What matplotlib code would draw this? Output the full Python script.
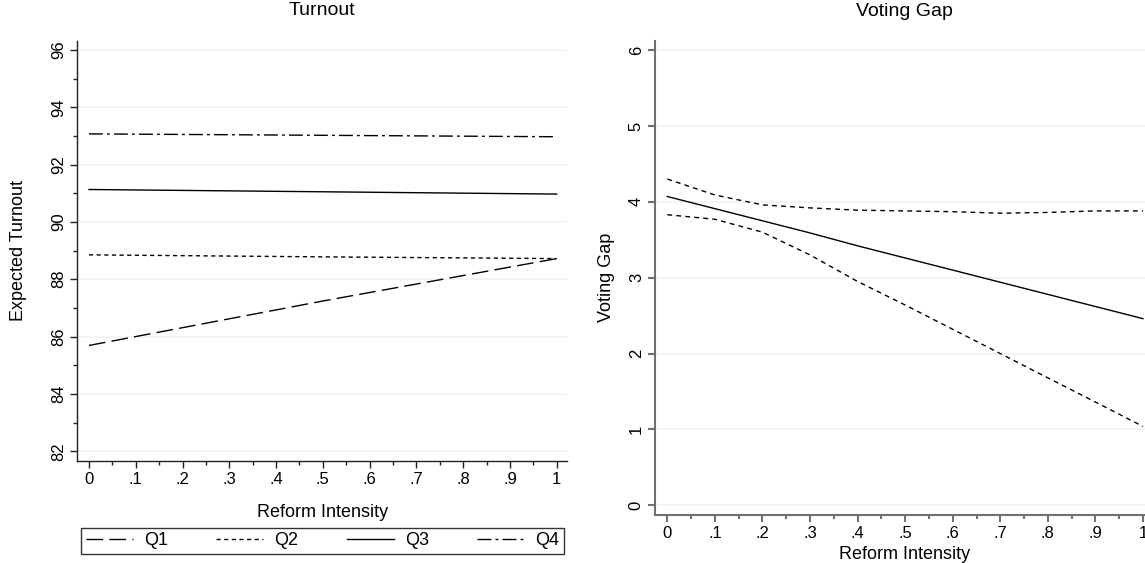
import numpy as np
import matplotlib
matplotlib.use("Agg")
import matplotlib.pyplot as plt
from matplotlib.ticker import MultipleLocator, FixedLocator

plt.rcParams['font.family'] = ['Liberation Sans', 'DejaVu Sans']
plt.rcParams['font.size'] = 12

# predicted turnout by quartile against reform intensity
reform = [0.0, 0.5, 1.0]
turnout_q1 = [85.69, 87.24, 88.72]
turnout_q2 = [88.85, 88.78, 88.72]
turnout_q3 = [91.13, 91.05, 90.97]
turnout_q4 = [93.07, 93.02, 92.97]

# voting gap estimate with confidence band
gap_x = [0.0, 0.1, 0.2, 0.3, 0.4, 0.5, 0.6, 0.7, 0.8, 0.9, 1.0]
gap_fit = [4.07, 3.91, 3.75, 3.59, 3.42, 3.26, 3.10, 2.94, 2.78, 2.62, 2.46]
gap_upper = [4.30, 4.09, 3.96, 3.92, 3.89, 3.88, 3.87, 3.85, 3.86, 3.88, 3.88]
gap_lower = [3.83, 3.77, 3.60, 3.30, 2.95, 2.64, 2.32, 2.00, 1.68, 1.36, 1.04]

x_ticks = [0, .1, .2, .3, .4, .5, .6, .7, .8, .9, 1]
x_labels = ['0', '.1', '.2', '.3', '.4', '.5', '.6', '.7', '.8', '.9', '1']

grid_col = '#eef4f5'


def style_axes(ax, spine_col, spine_w):
    for s in ['top', 'right']:
        ax.spines[s].set_visible(False)
    for s in ['left', 'bottom']:
        ax.spines[s].set_color(spine_col)
        ax.spines[s].set_linewidth(spine_w)
    ax.set_xticks(x_ticks)
    ax.set_xticklabels(x_labels)
    ax.xaxis.set_minor_locator(FixedLocator(np.arange(0.05, 1.0, 0.1)))
    ax.tick_params(axis='both', which='major', length=5, width=spine_w,
                   color=spine_col, pad=3, labelsize=12)
    ax.tick_params(axis='both', which='minor', length=3, width=spine_w,
                   color=spine_col)
    ax.tick_params(axis='y', labelrotation=90)
    for lab in ax.get_yticklabels():
        lab.set_verticalalignment('center')
    ax.yaxis.grid(True, color=grid_col, linewidth=1.2)
    ax.set_axisbelow(True)


fig = plt.figure(figsize=(11.45, 5.63), dpi=100)

# left panel: turnout
ax1 = fig.add_axes([0.0675, 0.1812, 0.428, 0.746])
l1, = ax1.plot(reform, turnout_q1, color='black', lw=1, dashes=(12, 4.5))
l2, = ax1.plot(reform, turnout_q2, color='black', lw=1, dashes=(3, 2.5))
l3, = ax1.plot(reform, turnout_q3, color='black', lw=1)
l4, = ax1.plot(reform, turnout_q4, color='black', lw=1, dashes=(10, 3, 2, 3))
ax1.set_xlim(-0.025, 1.0227)
ax1.set_ylim(81.66, 96.31)
ax1.set_yticks([82, 84, 86, 88, 90, 92, 94, 96])
ax1.yaxis.set_minor_locator(MultipleLocator(1))
style_axes(ax1, '#222222', 1.0)
ax1.set_ylabel('Expected Turnout', fontsize=13)
ax1.yaxis.set_label_coords(-0.103, 0.5)
ax1.set_xlabel('Reform Intensity', fontsize=13)
ax1.xaxis.set_label_coords(0.5, -0.103)
ax1.text(0.5, 1.072, 'Turnout', transform=ax1.transAxes, fontsize=14,
         ha='center', va='center')

leg = fig.legend([l1, l2, l3, l4], ['Q1', 'Q2', 'Q3', 'Q4'], ncol=4,
                 loc='center', bbox_to_anchor=(0.2817, 0.0391),
                 frameon=True, fancybox=False, edgecolor='black',
                 handlelength=2.6, handletextpad=0.6, columnspacing=2.7,
                 borderpad=0.25, borderaxespad=0, fontsize=13)
leg.get_frame().set_linewidth(1.0)

# right panel: voting gap, runs past the figure edge
ax2 = fig.add_axes([0.572, 0.0858, 0.4358, 0.8414])
ax2.plot(gap_x, gap_fit, color='black', lw=1)
ax2.plot(gap_x, gap_upper, color='black', lw=1, dashes=(3.5, 3))
ax2.plot(gap_x, gap_lower, color='black', lw=1, dashes=(3.5, 3))
ax2.set_xlim(-0.026, 1.023)
ax2.set_ylim(-0.124, 6.12)
ax2.set_yticks([0, 1, 2, 3, 4, 5, 6])
style_axes(ax2, '#707070', 1.5)
ax2.set_ylabel('Voting Gap', fontsize=13)
ax2.yaxis.set_label_coords(-0.080, 0.5)
ax2.set_xlabel('Reform Intensity', fontsize=13)
ax2.xaxis.set_label_coords(0.5, -0.066)
ax2.text(0.5, 1.063, 'Voting Gap', transform=ax2.transAxes, fontsize=14,
         ha='center', va='center')

fig.savefig('out.png', dpi=100, facecolor='white')
